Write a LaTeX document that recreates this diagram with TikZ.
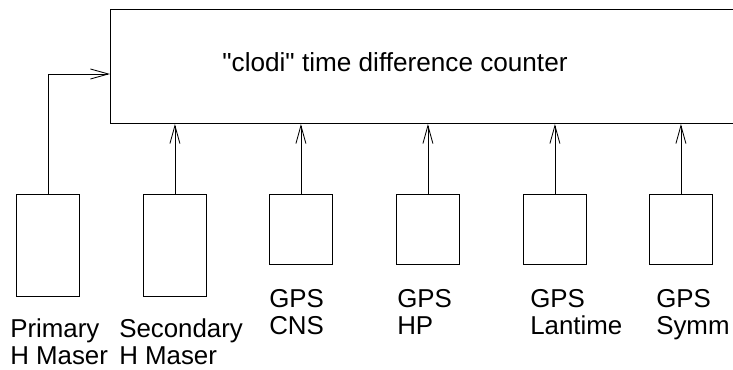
\documentclass[tikz,border=0pt]{standalone}
\usepackage{fontspec}
\setmainfont{Liberation Sans}
\usetikzlibrary{arrows.meta}
\usetikzlibrary{calc}

\begin{document}
\begin{tikzpicture}
	[src/.style={draw, line width=0.6pt, minimum width=1.575cm, anchor=north west, inner sep=0pt},
	lbl/.style={anchor=north west, align=left, inner sep=0pt, font=\fontsize{18.4}{19.6}\selectfont},
	sig/.style={-{Straight Barb[length=0.45cm, width=0.25cm, line width=0.6pt]}, line width=0.6pt}];

	\useasboundingbox (0,0) rectangle (18.325,9.25);

	%Counter
	\node[draw, line width=0.6pt, anchor=south west, minimum width=16cm, minimum height=2.85cm, inner sep=0pt] (clodi) at (2.75,6.15) {};
	\node[anchor=base, inner sep=0pt, font=\fontsize{18.6}{20}\selectfont] (title) at (9.875,7.45) {\textquotedbl clodi\textquotedbl{} time difference counter};
	\coordinate (pin) at (2.75,7.4);

	%Sources
	\node[src, minimum height=2.55cm] (pmaser) at (0.4,4.4) {};
	\node[src, minimum height=2.55cm] (smaser) at (3.575,4.4) {};
	\node[src, minimum height=1.75cm] (cns) at (6.725,4.4) {};
	\node[src, minimum height=1.75cm] (hp) at (9.9,4.4) {};
	\node[src, minimum height=1.75cm] (lantime) at (13.075,4.4) {};
	\node[src, minimum height=1.75cm] (symm) at (16.225,4.4) {};

	%Labels
	\node[lbl] (pmaserlbl) at (0.25,1.29) {Primary\\H Maser};
	\node[lbl] (smaserlbl) at (2.975,1.29) {Secondary\\H Maser};
	\node[lbl] (cnslbl) at (6.725,2.03) {GPS\\CNS};
	\node[lbl] (hplbl) at (9.925,2.03) {GPS\\HP};
	\node[lbl] (lantimelbl) at (13.25,2.03) {GPS\\Lantime};
	\node[lbl] (symmlbl) at (16.4,2.03) {GPS\\Symm};

	%Signals
	\draw[sig] (pmaser.north) |- (pin);
	\foreach \s in {smaser, cns, hp, lantime, symm}
		\draw[sig] (\s.north) -- (\s.north |- clodi.south);
\end{tikzpicture}
\end{document}
